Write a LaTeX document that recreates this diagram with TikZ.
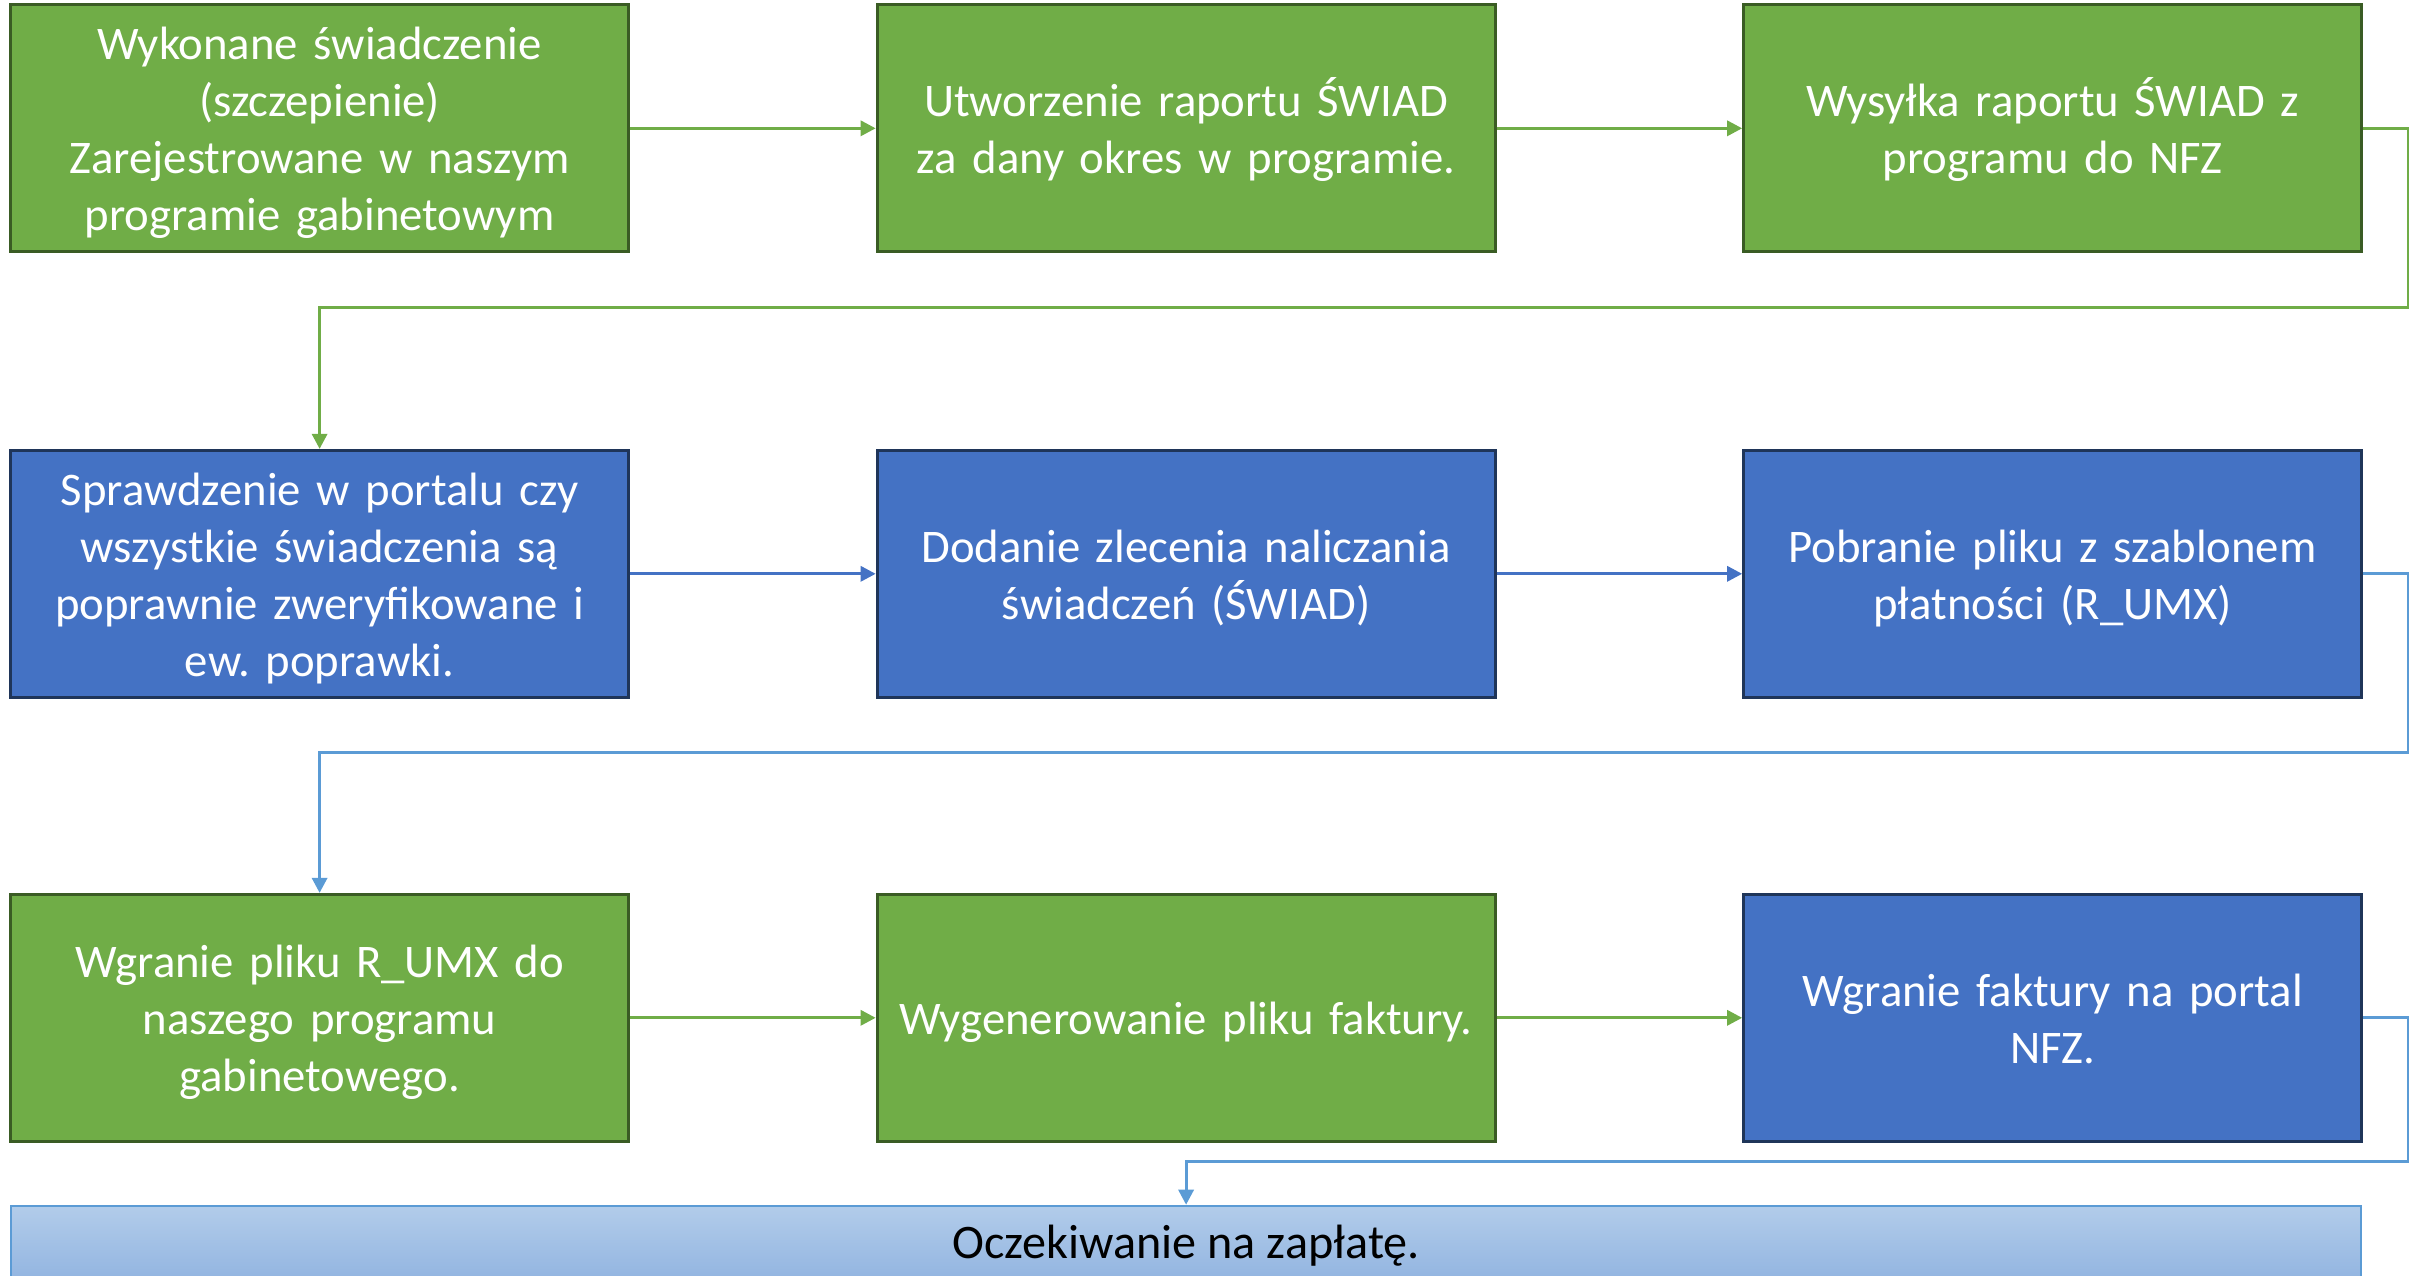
\documentclass[tikz,border=0pt]{standalone}
\usepackage{fontspec}
\setmainfont{Carlito}
\usepackage{xcolor}
\usepackage{tikz}
\usetikzlibrary{calc, arrows.meta, positioning}
\frenchspacing
\definecolor{zielony}{HTML}{70AD47}
\definecolor{ciemnyzielony}{HTML}{3A5C24}
\definecolor{niebieski}{HTML}{4472C4}
\definecolor{ciemnyniebieski}{HTML}{1F3559}
\definecolor{jasnyniebieski}{HTML}{5B9BD5}
\definecolor{pasekgora}{HTML}{B2CCEA}
\definecolor{pasekdol}{HTML}{90B3E0}
\newcommand{\boxfont}{\fontsize{13.3}{16.2}\selectfont}
\tikzset{
    greennode/.style = {draw=ciemnyzielony, fill=zielony, rectangle, line width=0.8pt, text=white,
      minimum width=6.18cm, minimum height=2.47cm, text width=5.9cm, align=center,
      inner sep=0em, node distance=0em, font=\boxfont,
      execute at begin node={\rule{0pt}{14pt}}, execute at end node={\rule[-4.4pt]{0pt}{0pt}}},
    bluenode/.style = {greennode, draw=ciemnyniebieski, fill=niebieski},
    barnode/.style = {draw=jasnyniebieski, rectangle, line width=0.6pt, top color=pasekgora,
      bottom color=pasekdol, minimum width=23.5cm, minimum height=0.8cm, inner sep=0em,
      node distance=0em, font=\fontsize{13.7}{16.5}\selectfont},
    gline/.style = {zielony, line width=0.9pt, -{Triangle[length=4.3pt, width=4.3pt]}},
    bline/.style = {gline, niebieski},
    lbline/.style = {gline, jasnyniebieski}
}

\begin{document}
\begin{tikzpicture}
    \useasboundingbox (0,0) rectangle (24.09,-12.75);
    \clip (0,0) rectangle (24.09,-12.75);

    % first row
    \node [name=wyk, greennode] at (3.196,-1.283) {Wykonane świadczenie\\(szczepienie)\\Zarejestrowane w naszym\\programie gabinetowym};
    \node [name=raport, greennode, right of = wyk, xshift=8.665cm] {Utworzenie raportu ŚWIAD\\za dany okres w programie.};
    \node [name=wysylka, greennode, right of = raport, xshift=8.665cm] {Wysyłka raportu ŚWIAD z\\programu do NFZ};

    % second row
    \node [name=spr, bluenode, below of = wyk, yshift=-4.455cm] {Sprawdzenie w portalu czy\\wszystkie świadczenia są\\poprawnie zweryfikowane i\\ew. poprawki.};
    \node [name=zlec, bluenode, right of = spr, xshift=8.665cm] {Dodanie zlecenia naliczania\\świadczeń (ŚWIAD)};
    \node [name=pobr, bluenode, right of = zlec, xshift=8.665cm] {Pobranie pliku z szablonem\\płatności (R\_UMX)};

    % third row
    \node [name=wgr, greennode, below of = spr, yshift=-4.44cm] {Wgranie pliku R\_UMX do\\naszego programu\\gabinetowego.};
    \node [name=faktura, greennode, right of = wgr, xshift=8.665cm] {Wygenerowanie pliku faktury.};
    \node [name=portal, bluenode, right of = faktura, xshift=8.665cm] {Wgranie faktury na portal\\NFZ.};

    \node [name=zaplata, barnode, below of = faktura, yshift=-2.28cm] {Oczekiwanie na zapłatę.};

    \draw[gline] (wyk) -- (raport);
    \draw[gline] (raport) -- (wysylka);
    \draw[gline] (wysylka.east) -- ++(0.46,0) |- ([yshift=-0.54cm]wyk.south) -- (spr.north);

    \draw[bline] (spr) -- (zlec);
    \draw[bline] (zlec) -- (pobr);
    \draw[lbline] (pobr.east) -- ++(0.46,0) |- ([yshift=-0.535cm]spr.south) -- (wgr.north);

    \draw[gline] (wgr) -- (faktura);
    \draw[gline] (faktura) -- (portal);
    \draw[lbline] (portal.east) -- ++(0.46,0) |- ([yshift=-0.185cm]faktura.south) -- (zaplata.north);
\end{tikzpicture}
\end{document}
